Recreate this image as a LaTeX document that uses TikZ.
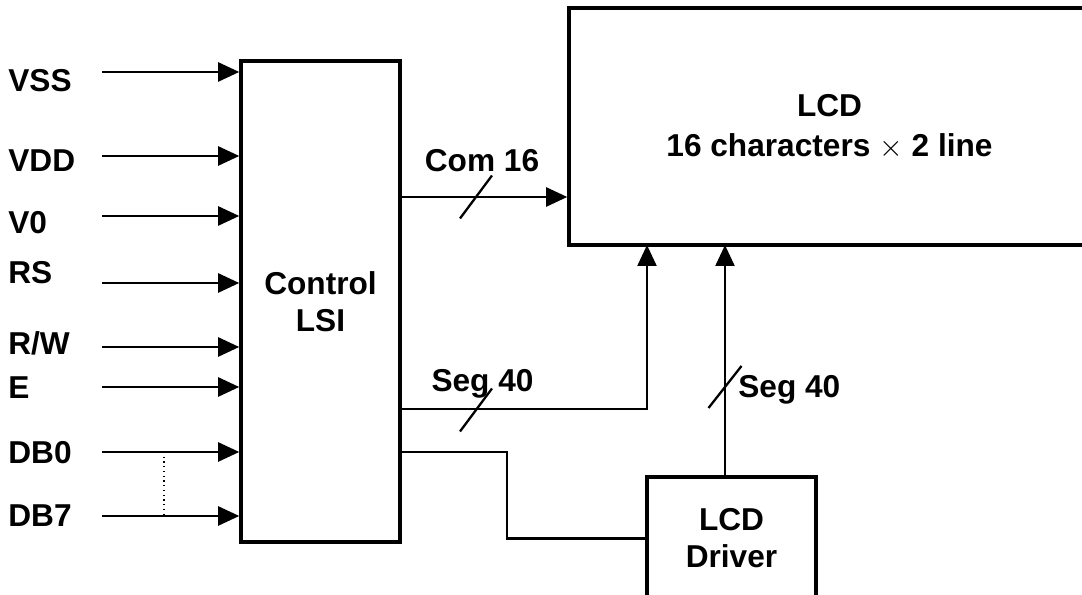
\documentclass[tikz,border=0pt]{standalone}
\usepackage{fontspec}
\setmainfont{Liberation Sans}
\usetikzlibrary{arrows.meta, calc}

\begin{document}
\begin{tikzpicture}[font=\fontsize{18}{21}\selectfont\bfseries,
    blockbox/.style={draw, line width=2pt, align=center, inner sep=0pt},
    wire/.style={line width=1.3pt},
    feed/.style={wire, -{Triangle[length=0.42cm, width=0.38cm]}},
    sig/.style={anchor=base west, inner sep=0pt},
    buslbl/.style={inner sep=0pt}]
  \useasboundingbox (0,0) rectangle (21.64,11.9);
  \clip (0,0) rectangle (21.64,11.9);
  % Blocks
  \node[blockbox, minimum width=3.18cm, minimum height=9.62cm]
    (lsi) at (6.41,5.87) {Control\\LSI};
  \node[blockbox, minimum width=10.42cm, minimum height=4.74cm]
    (lcd) at (16.59,9.37) {LCD\\[2pt]16 characters {\mdseries$\times$} 2 line};
  \node[blockbox, minimum width=3.38cm, minimum height=2.46cm]
    (drv) at (14.63,1.13) {LCD\\Driver};
  % Input signals
  \foreach \nm/\txt/\ly/\ay in {vss/VSS/10.07/10.46, vdd/VDD/8.47/8.78,
      vo/V0/7.23/7.58, rs/RS/6.23/6.24, rw/R\slash W/4.80/4.96,
      en/E/3.93/4.16, db0/DB0/2.63/2.86, db7/DB7/1.37/1.58} {
    \node[sig] (\nm) at (0.16,\ly) {\txt};
    \coordinate (\nm-s) at (2.04,\ay);
    \draw[feed] (\nm-s) -- (\nm-s -| lsi.west);
  }
  \coordinate (dots) at (3.28,0);
  \draw[dotted, line width=0.7pt] (dots |- db0-s) -- (dots |- db7-s);
  % Common lines
  \coordinate (com) at (8.00,7.96);
  \draw[feed] (com) -- (com -| lcd.west);
  \draw[wire] (9.20,7.53) -- ++(0.64,0.86);
  \node[buslbl, anchor=base] (comlbl) at (9.64,8.47) {Com 16};
  % Segment lines
  \coordinate (seg1) at (8.00,3.72);
  \coordinate (lcdin1) at (12.94,7.00);
  \draw[feed] (seg1) -| (lcdin1);
  \draw[wire] (9.20,3.27) -- ++(0.64,0.86);
  \node[buslbl, anchor=base] (seg1lbl) at (9.65,4.07) {Seg 40};
  % Driver path
  \coordinate (drvfeed) at (8.00,2.86);
  \draw[wire] (drvfeed) -- (10.14,2.86) |- (drv.west);
  \coordinate (lcdin2) at (14.50,7.00);
  \draw[feed] (drv.north -| lcdin2) -- (lcdin2);
  \draw[wire] (14.17,3.74) -- ++(0.66,0.84);
  \node[buslbl, anchor=base west] (seg2lbl) at (14.76,3.94) {Seg 40};
\end{tikzpicture}
\end{document}
